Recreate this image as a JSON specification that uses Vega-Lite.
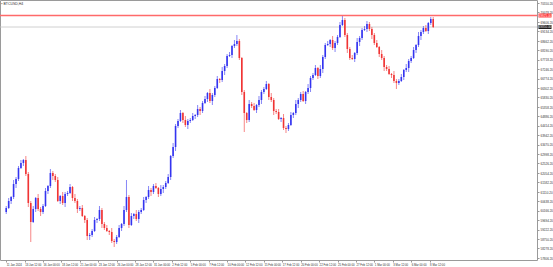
{
"$schema": "https://vega.github.io/schema/vega-lite/v6.json",
"width": 537, "height": 260,
"autosize": {"type": "none"},
"padding": {"left": 0, "top": 0, "right": 16, "bottom": 7},
"background": "white",
"config": {"view": {"stroke": "#9a9a9a", "strokeWidth": 1}, "font": "Liberation Sans", "axis": {"labelOverlap": false, "labelSeparation": 0}},
"title": {"text": "▪ BTCUSD,H4", "anchor": "start", "offset": -5, "fontSize": 3.5, "fontWeight": "normal", "color": "#333333", "dx": 2},
"datasets": {
"candles": [
{"t":"2024-01-11T00:00","o":60100,"h":60400,"l":60000,"c":60300},
{"t":"2024-01-11T08:00","o":60300,"h":60800,"l":60250,"c":60650},
{"t":"2024-01-11T16:00","o":60650,"h":60900,"l":60500,"c":60850},
{"t":"2024-01-12T00:00","o":60850,"h":61700,"l":60750,"c":61500},
{"t":"2024-01-12T08:00","o":61500,"h":61850,"l":61300,"c":61750},
{"t":"2024-01-12T16:00","o":61750,"h":62400,"l":61650,"c":62300},
{"t":"2024-01-13T00:00","o":62300,"h":62700,"l":62250,"c":62550},
{"t":"2024-01-13T08:00","o":62550,"h":62750,"l":62400,"c":62700},
{"t":"2024-01-13T16:00","o":62700,"h":62900,"l":61900,"c":62000},
{"t":"2024-01-14T00:00","o":62000,"h":62100,"l":60350,"c":60550},
{"t":"2024-01-14T08:00","o":60550,"h":60650,"l":58600,"c":59600},
{"t":"2024-01-14T16:00","o":59600,"h":60400,"l":59550,"c":60250},
{"t":"2024-01-15T00:00","o":60250,"h":60850,"l":60100,"c":60800},
{"t":"2024-01-15T08:00","o":60800,"h":61000,"l":60150,"c":60250},
{"t":"2024-01-15T16:00","o":60250,"h":60350,"l":59900,"c":60100},
{"t":"2024-01-16T00:00","o":60100,"h":60500,"l":60000,"c":60400},
{"t":"2024-01-16T08:00","o":60400,"h":61300,"l":60350,"c":61150},
{"t":"2024-01-16T16:00","o":61150,"h":61450,"l":61000,"c":61400},
{"t":"2024-01-17T00:00","o":61400,"h":62250,"l":61300,"c":62050},
{"t":"2024-01-17T08:00","o":62050,"h":62150,"l":61700,"c":61900},
{"t":"2024-01-17T16:00","o":61900,"h":62000,"l":61600,"c":61700},
{"t":"2024-01-18T00:00","o":61700,"h":61850,"l":60600,"c":60650},
{"t":"2024-01-18T08:00","o":60650,"h":60950,"l":60500,"c":60900},
{"t":"2024-01-18T16:00","o":60900,"h":61100,"l":60450,"c":60550},
{"t":"2024-01-19T00:00","o":60550,"h":61100,"l":60350,"c":61000},
{"t":"2024-01-19T08:00","o":61000,"h":61150,"l":60900,"c":61050},
{"t":"2024-01-19T16:00","o":61050,"h":61500,"l":61000,"c":61350},
{"t":"2024-01-20T00:00","o":61350,"h":61400,"l":60650,"c":60800},
{"t":"2024-01-20T08:00","o":60800,"h":61000,"l":60550,"c":60650},
{"t":"2024-01-20T16:00","o":60650,"h":60750,"l":60050,"c":60250},
{"t":"2024-01-21T00:00","o":60250,"h":60400,"l":60150,"c":60300},
{"t":"2024-01-21T08:00","o":60300,"h":60450,"l":59850,"c":59900},
{"t":"2024-01-21T16:00","o":59900,"h":59950,"l":59550,"c":59700},
{"t":"2024-01-22T00:00","o":59700,"h":59800,"l":58700,"c":58900},
{"t":"2024-01-22T08:00","o":58900,"h":59050,"l":58700,"c":58950},
{"t":"2024-01-22T16:00","o":58950,"h":59250,"l":58850,"c":59150},
{"t":"2024-01-23T00:00","o":59150,"h":59850,"l":59100,"c":59700},
{"t":"2024-01-23T08:00","o":59700,"h":59800,"l":59550,"c":59750},
{"t":"2024-01-23T16:00","o":59750,"h":60400,"l":59650,"c":60200},
{"t":"2024-01-24T00:00","o":60200,"h":60300,"l":59300,"c":59500},
{"t":"2024-01-24T08:00","o":59500,"h":59600,"l":59200,"c":59300},
{"t":"2024-01-24T16:00","o":59300,"h":59450,"l":59100,"c":59150},
{"t":"2024-01-25T00:00","o":59150,"h":59200,"l":58950,"c":59100},
{"t":"2024-01-25T08:00","o":59100,"h":59300,"l":58550,"c":58650},
{"t":"2024-01-25T16:00","o":58650,"h":58750,"l":58350,"c":58600},
{"t":"2024-01-26T00:00","o":58600,"h":58950,"l":58500,"c":58850},
{"t":"2024-01-26T08:00","o":58850,"h":59450,"l":58800,"c":59300},
{"t":"2024-01-26T16:00","o":59300,"h":59550,"l":59150,"c":59500},
{"t":"2024-01-27T00:00","o":59500,"h":60400,"l":59400,"c":60200},
{"t":"2024-01-27T08:00","o":60200,"h":61700,"l":60100,"c":60850},
{"t":"2024-01-27T16:00","o":60850,"h":60950,"l":59300,"c":59450},
{"t":"2024-01-28T00:00","o":59450,"h":60050,"l":59400,"c":59900},
{"t":"2024-01-28T08:00","o":59900,"h":60050,"l":59750,"c":60000},
{"t":"2024-01-28T16:00","o":60000,"h":60200,"l":59650,"c":59750},
{"t":"2024-01-29T00:00","o":59750,"h":60200,"l":59550,"c":60100},
{"t":"2024-01-29T08:00","o":60100,"h":60300,"l":60000,"c":60200},
{"t":"2024-01-29T16:00","o":60200,"h":60850,"l":60150,"c":60700},
{"t":"2024-01-30T00:00","o":60700,"h":60900,"l":60550,"c":60850},
{"t":"2024-01-30T08:00","o":60850,"h":61400,"l":60750,"c":61200},
{"t":"2024-01-30T16:00","o":61200,"h":61300,"l":60900,"c":61100},
{"t":"2024-01-31T00:00","o":61100,"h":61500,"l":61000,"c":61400},
{"t":"2024-01-31T08:00","o":61400,"h":61550,"l":61250,"c":61300},
{"t":"2024-01-31T16:00","o":61300,"h":61350,"l":60850,"c":61000},
{"t":"2024-02-01T00:00","o":61000,"h":61450,"l":60900,"c":61250},
{"t":"2024-02-01T08:00","o":61250,"h":61450,"l":61050,"c":61350},
{"t":"2024-02-01T16:00","o":61350,"h":61650,"l":61250,"c":61550},
{"t":"2024-02-02T00:00","o":61550,"h":62000,"l":61500,"c":61850},
{"t":"2024-02-02T08:00","o":61850,"h":62950,"l":61700,"c":62900},
{"t":"2024-02-02T16:00","o":62900,"h":63550,"l":62800,"c":63350},
{"t":"2024-02-03T00:00","o":63350,"h":64500,"l":63150,"c":64400},
{"t":"2024-02-03T08:00","o":64400,"h":64750,"l":64300,"c":64650},
{"t":"2024-02-03T16:00","o":64650,"h":65200,"l":64600,"c":65050},
{"t":"2024-02-04T00:00","o":65050,"h":65100,"l":64550,"c":64700},
{"t":"2024-02-04T08:00","o":64700,"h":64900,"l":64350,"c":64450},
{"t":"2024-02-04T16:00","o":64450,"h":64750,"l":64250,"c":64650},
{"t":"2024-02-05T00:00","o":64650,"h":64800,"l":64550,"c":64700},
{"t":"2024-02-05T08:00","o":64700,"h":65050,"l":64650,"c":64900},
{"t":"2024-02-05T16:00","o":64900,"h":65000,"l":64750,"c":64950},
{"t":"2024-02-06T00:00","o":64950,"h":65450,"l":64850,"c":65250},
{"t":"2024-02-06T08:00","o":65250,"h":65350,"l":64950,"c":65150},
{"t":"2024-02-06T16:00","o":65150,"h":65650,"l":65050,"c":65550},
{"t":"2024-02-07T00:00","o":65550,"h":65900,"l":65500,"c":65750},
{"t":"2024-02-07T08:00","o":65750,"h":66100,"l":65600,"c":66050},
{"t":"2024-02-07T16:00","o":66050,"h":66250,"l":65550,"c":65650},
{"t":"2024-02-08T00:00","o":65650,"h":66050,"l":65450,"c":65950},
{"t":"2024-02-08T08:00","o":65950,"h":66400,"l":65850,"c":66300},
{"t":"2024-02-08T16:00","o":66300,"h":66900,"l":66250,"c":66750},
{"t":"2024-02-09T00:00","o":66750,"h":66800,"l":66550,"c":66700},
{"t":"2024-02-09T08:00","o":66700,"h":67350,"l":66600,"c":67150},
{"t":"2024-02-09T16:00","o":67150,"h":67500,"l":66950,"c":67400},
{"t":"2024-02-10T00:00","o":67400,"h":68000,"l":67300,"c":67900},
{"t":"2024-02-10T08:00","o":67900,"h":68100,"l":67850,"c":67950},
{"t":"2024-02-10T16:00","o":67950,"h":68450,"l":67800,"c":68400},
{"t":"2024-02-11T00:00","o":68400,"h":68700,"l":68300,"c":68500},
{"t":"2024-02-11T08:00","o":68500,"h":68950,"l":68400,"c":68650},
{"t":"2024-02-11T16:00","o":68650,"h":68750,"l":67700,"c":67800},
{"t":"2024-02-12T00:00","o":67800,"h":67850,"l":65950,"c":66100},
{"t":"2024-02-12T08:00","o":66100,"h":66200,"l":64100,"c":65050},
{"t":"2024-02-12T16:00","o":65050,"h":65100,"l":64550,"c":64700},
{"t":"2024-02-13T00:00","o":64700,"h":65700,"l":64600,"c":65500},
{"t":"2024-02-13T08:00","o":65500,"h":65600,"l":65300,"c":65400},
{"t":"2024-02-13T16:00","o":65400,"h":65550,"l":65150,"c":65200},
{"t":"2024-02-14T00:00","o":65200,"h":65500,"l":65050,"c":65450},
{"t":"2024-02-14T08:00","o":65450,"h":65900,"l":65350,"c":65700},
{"t":"2024-02-14T16:00","o":65700,"h":66200,"l":65500,"c":66100},
{"t":"2024-02-15T00:00","o":66100,"h":66350,"l":66000,"c":66250},
{"t":"2024-02-15T08:00","o":66250,"h":66650,"l":66200,"c":66500},
{"t":"2024-02-15T16:00","o":66500,"h":66550,"l":65700,"c":65850},
{"t":"2024-02-16T00:00","o":65850,"h":66050,"l":65600,"c":65700},
{"t":"2024-02-16T08:00","o":65700,"h":65800,"l":64950,"c":65150},
{"t":"2024-02-16T16:00","o":65150,"h":65250,"l":65000,"c":65100},
{"t":"2024-02-17T00:00","o":65100,"h":65250,"l":64700,"c":64750},
{"t":"2024-02-17T08:00","o":64750,"h":64850,"l":64600,"c":64800},
{"t":"2024-02-17T16:00","o":64800,"h":65000,"l":64200,"c":64300},
{"t":"2024-02-18T00:00","o":64300,"h":64400,"l":64050,"c":64250},
{"t":"2024-02-18T08:00","o":64250,"h":64550,"l":64150,"c":64450},
{"t":"2024-02-18T16:00","o":64450,"h":65100,"l":64400,"c":64950},
{"t":"2024-02-19T00:00","o":64950,"h":65100,"l":64800,"c":65050},
{"t":"2024-02-19T08:00","o":65050,"h":65700,"l":64950,"c":65500},
{"t":"2024-02-19T16:00","o":65500,"h":65800,"l":65300,"c":65700},
{"t":"2024-02-20T00:00","o":65700,"h":66100,"l":65600,"c":66000},
{"t":"2024-02-20T08:00","o":66000,"h":66150,"l":65600,"c":65650},
{"t":"2024-02-20T16:00","o":65650,"h":66150,"l":65500,"c":66100},
{"t":"2024-02-21T00:00","o":66100,"h":66500,"l":66000,"c":66300},
{"t":"2024-02-21T08:00","o":66300,"h":66900,"l":66100,"c":66800},
{"t":"2024-02-21T16:00","o":66800,"h":67050,"l":66700,"c":66950},
{"t":"2024-02-22T00:00","o":66950,"h":67450,"l":66900,"c":67300},
{"t":"2024-02-22T08:00","o":67300,"h":67350,"l":66750,"c":66900},
{"t":"2024-02-22T16:00","o":66900,"h":67450,"l":66800,"c":67250},
{"t":"2024-02-23T00:00","o":67250,"h":67950,"l":67050,"c":67850},
{"t":"2024-02-23T08:00","o":67850,"h":68550,"l":67750,"c":68450},
{"t":"2024-02-23T16:00","o":68450,"h":68650,"l":68400,"c":68500},
{"t":"2024-02-24T00:00","o":68500,"h":68750,"l":68350,"c":68700},
{"t":"2024-02-24T08:00","o":68700,"h":68900,"l":68200,"c":68300},
{"t":"2024-02-24T16:00","o":68300,"h":68650,"l":68100,"c":68550},
{"t":"2024-02-25T00:00","o":68550,"h":68950,"l":68450,"c":68850},
{"t":"2024-02-25T08:00","o":68850,"h":69600,"l":68800,"c":69450},
{"t":"2024-02-25T16:00","o":69450,"h":69950,"l":69400,"c":69700},
{"t":"2024-02-26T00:00","o":69700,"h":69800,"l":68850,"c":68950},
{"t":"2024-02-26T08:00","o":68950,"h":69050,"l":68050,"c":68250},
{"t":"2024-02-26T16:00","o":68250,"h":68350,"l":67700,"c":67800},
{"t":"2024-02-27T00:00","o":67800,"h":67950,"l":67700,"c":67750},
{"t":"2024-02-27T08:00","o":67750,"h":68100,"l":67600,"c":68050},
{"t":"2024-02-27T16:00","o":68050,"h":68800,"l":67950,"c":68600},
{"t":"2024-02-28T00:00","o":68600,"h":68900,"l":68400,"c":68800},
{"t":"2024-02-28T08:00","o":68800,"h":69300,"l":68700,"c":69200},
{"t":"2024-02-28T16:00","o":69200,"h":69400,"l":69150,"c":69250},
{"t":"2024-02-29T00:00","o":69250,"h":69650,"l":69100,"c":69500},
{"t":"2024-02-29T08:00","o":69500,"h":69600,"l":69150,"c":69250},
{"t":"2024-02-29T16:00","o":69250,"h":69350,"l":68750,"c":68950},
{"t":"2024-03-01T00:00","o":68950,"h":69050,"l":68450,"c":68550},
{"t":"2024-03-01T08:00","o":68550,"h":68700,"l":68300,"c":68350},
{"t":"2024-03-01T16:00","o":68350,"h":68400,"l":67850,"c":68000},
{"t":"2024-03-02T00:00","o":68000,"h":68200,"l":67700,"c":67800},
{"t":"2024-03-02T08:00","o":67800,"h":67900,"l":67150,"c":67350},
{"t":"2024-03-02T16:00","o":67350,"h":67450,"l":67150,"c":67250},
{"t":"2024-03-03T00:00","o":67250,"h":67400,"l":66950,"c":67000},
{"t":"2024-03-03T08:00","o":67000,"h":67050,"l":66800,"c":66950},
{"t":"2024-03-03T16:00","o":66950,"h":67150,"l":66550,"c":66650},
{"t":"2024-03-04T00:00","o":66650,"h":66750,"l":66250,"c":66550},
{"t":"2024-03-04T08:00","o":66550,"h":66750,"l":66450,"c":66650},
{"t":"2024-03-04T16:00","o":66650,"h":67000,"l":66600,"c":66850},
{"t":"2024-03-05T00:00","o":66850,"h":67250,"l":66700,"c":67200},
{"t":"2024-03-05T08:00","o":67200,"h":67500,"l":67100,"c":67300},
{"t":"2024-03-05T16:00","o":67300,"h":67750,"l":67100,"c":67650},
{"t":"2024-03-06T00:00","o":67650,"h":67900,"l":67550,"c":67800},
{"t":"2024-03-06T08:00","o":67800,"h":68350,"l":67750,"c":68200},
{"t":"2024-03-06T16:00","o":68200,"h":68500,"l":68050,"c":68450},
{"t":"2024-03-07T00:00","o":68450,"h":69100,"l":68350,"c":68900},
{"t":"2024-03-07T08:00","o":68900,"h":69200,"l":68700,"c":69100},
{"t":"2024-03-07T16:00","o":69100,"h":69400,"l":69000,"c":69300},
{"t":"2024-03-08T00:00","o":69300,"h":69450,"l":69100,"c":69150},
{"t":"2024-03-08T08:00","o":69150,"h":69600,"l":69000,"c":69550},
{"t":"2024-03-08T16:00","o":69550,"h":69850,"l":69450,"c":69750},
{"t":"2024-03-09T00:00","o":69750,"h":69850,"l":69300,"c":69350}
],
"levels": [
{"name": "resistance", "price": 69925},
{"name": "last", "price": 69350}
]
},
"layer": [
{
"data": {"name": "levels"},
"transform": [{"filter": "datum.name == 'last'"}],
"mark": {"type": "rule", "color": "#c4c4c4", "strokeWidth": 0.8},
"encoding": {"y": {"field": "price", "type": "quantitative", "title": null}}
},
{
"data": {"name": "candles"},
"mark": {"type": "rule", "strokeWidth": 0.8, "opacity": 0.75},
"encoding": {
"x": {"field": "t", "type": "temporal", "title": null,
"scale": {"domain": [{"year": 2024, "month": 1, "date": 10, "hours": 20}, {"year": 2024, "month": 3, "date": 22, "hours": 10}]},
"axis": {"orient": "bottom", "grid": false, "domain": false, "tickCount": 100, "tickSize": 2, "tickColor": "#999999", "labelFontSize": 2.8, "labelColor": "#333333", "labelAlign": "left", "labelPadding": 1, "labelOverlap": false, "labelSeparation": 0, "labelFlush": false, "labelBound": false,
"values": [
{"year": 2024, "month": 1, "date": 11, "hours": 0},
{"year": 2024, "month": 1, "date": 13, "hours": 12},
{"year": 2024, "month": 1, "date": 16, "hours": 0},
{"year": 2024, "month": 1, "date": 18, "hours": 12},
{"year": 2024, "month": 1, "date": 21, "hours": 0},
{"year": 2024, "month": 1, "date": 23, "hours": 12},
{"year": 2024, "month": 1, "date": 26, "hours": 0},
{"year": 2024, "month": 1, "date": 28, "hours": 12},
{"year": 2024, "month": 1, "date": 31, "hours": 0},
{"year": 2024, "month": 2, "date": 2, "hours": 12},
{"year": 2024, "month": 2, "date": 5, "hours": 0},
{"year": 2024, "month": 2, "date": 7, "hours": 12},
{"year": 2024, "month": 2, "date": 10, "hours": 0},
{"year": 2024, "month": 2, "date": 12, "hours": 12},
{"year": 2024, "month": 2, "date": 15, "hours": 0},
{"year": 2024, "month": 2, "date": 17, "hours": 12},
{"year": 2024, "month": 2, "date": 20, "hours": 0},
{"year": 2024, "month": 2, "date": 22, "hours": 12},
{"year": 2024, "month": 2, "date": 25, "hours": 0},
{"year": 2024, "month": 2, "date": 27, "hours": 12},
{"year": 2024, "month": 3, "date": 1, "hours": 0},
{"year": 2024, "month": 3, "date": 3, "hours": 12},
{"year": 2024, "month": 3, "date": 6, "hours": 0},
{"year": 2024, "month": 3, "date": 8, "hours": 12}
],
"labelExpr": "datum.value < datetime(2024, 0, 12) ? timeFormat(datum.value, '%-d %b %Y') : timeFormat(datum.value, '%-d %b %H:%M')"}},
"y": {"field": "l", "type": "quantitative", "title": null,
"scale": {"domain": [57700, 70700], "zero": false, "nice": false},
"axis": {"orient": "right", "grid": false, "domain": false, "tickCount": 100, "tickSize": 2, "tickColor": "#999999", "labelFontSize": 3, "labelColor": "#333333", "labelPadding": 1, "labelOverlap": false, "labelSeparation": 0, "labelBound": false, "format": ".2f",
"values": [70550.2, 70078.2, 69606.2, 69134.2, 68662.2, 68190.2, 67718.2, 67246.2, 66774.2, 66302.2, 65830.2, 65358.2, 64886.2, 64414.2, 63942.2, 63470.2, 62998.2, 62526.2, 62054.2, 61582.2, 61110.2, 60638.2, 60166.2, 59694.2, 59222.2, 58750.2, 58278.2, 57806.2]}},
"y2": {"field": "h"},
"color": {"condition": {"test": "datum.c >= datum.o", "value": "#3434f0"}, "value": "#f03434"}
}
},
{
"data": {"name": "candles"},
"mark": {"type": "bar", "size": 1.6},
"encoding": {
"x": {"field": "t", "type": "temporal", "title": null},
"y": {"field": "o", "type": "quantitative", "title": null},
"y2": {"field": "c"},
"color": {"condition": {"test": "datum.c >= datum.o", "value": "#3434f0"}, "value": "#f03434"}
}
},
{
"data": {"name": "levels"},
"transform": [{"filter": "datum.name == 'resistance'"}],
"mark": {"type": "rule", "color": "#ff6a6a", "strokeWidth": 1.6},
"encoding": {"y": {"field": "price", "type": "quantitative", "title": null}}
},
{
"data": {"name": "levels"},
"mark": {"type": "point", "shape": "M-1,-0.3H1V0.3H-1Z", "size": 169, "filled": true, "opacity": 1, "xOffset": 8},
"encoding": {
"x": {"value": "width"},
"y": {"field": "price", "type": "quantitative", "title": null},
"color": {"field": "name", "type": "nominal", "scale": {"domain": ["resistance", "last"], "range": ["#ff2a2a", "#111111"]}, "legend": null}
}
},
{
"data": {"name": "levels"},
"mark": {"type": "text", "fontSize": 3, "color": "white", "xOffset": 8, "align": "center", "baseline": "middle"},
"encoding": {
"x": {"value": "width"},
"y": {"field": "price", "type": "quantitative", "title": null},
"text": {"field": "price", "type": "quantitative", "format": ".2f"}
}
}
]
}
